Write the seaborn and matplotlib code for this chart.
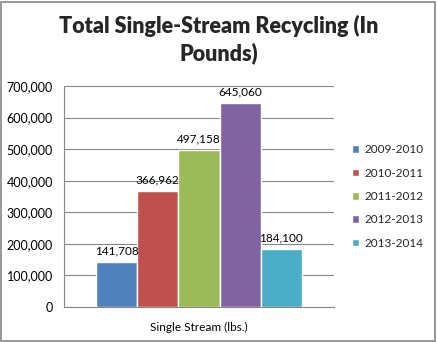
import matplotlib
matplotlib.use("Agg")
import matplotlib.pyplot as plt
import seaborn as sns
import pandas as pd
from matplotlib.patches import Rectangle

categories = ["Single Stream (lbs.)"]
years = ["2009-2010", "2010-2011", "2011-2012", "2012-2013", "2013-2014"]
values = [141708, 366962, 497158, 645060, 184100]
colors = ["#4F81BD", "#C0504D", "#9BBB59", "#8064A2", "#4BACC6"]
yticks = [0, 100000, 200000, 300000, 400000, 500000, 600000, 700000]

df = pd.DataFrame({"cat": categories * len(years), "year": years, "value": values})

sns.set_theme(style="white")
plt.rcParams["font.family"] = ["Lato", "DejaVu Sans"]

fig = plt.figure(figsize=(4.37, 3.42), dpi=100)
ax = fig.add_axes([64 / 437, 1 - 307 / 342, 270 / 437, 221 / 342])

sns.barplot(data=df, x="cat", y="value", hue="year", palette=colors,
            width=0.763, gap=0, ax=ax, legend=True, saturation=1)

ax.set_xlim(-0.5, 0.5)
ax.set_ylim(0, 700000)
ax.set_yticks(yticks)
ax.set_yticklabels([f"{v:,}" for v in yticks], fontsize=9, color="black")
ax.tick_params(axis="both", length=0, pad=8)
ax.tick_params(axis="x", labelsize=8.5, labelcolor="black", pad=11)
ax.set_xlabel("")
ax.set_ylabel("")
ax.yaxis.grid(True, color="#868686", linewidth=0.8)
ax.set_axisbelow(True)
for s in ["top", "right"]:
    ax.spines[s].set_visible(False)
for s in ["left", "bottom"]:
    ax.spines[s].set_color("#868686")
    ax.spines[s].set_linewidth(0.8)

for cont in ax.containers:
    ax.bar_label(cont, labels=[f"{v:,.0f}" for v in cont.datavalues],
                 fontsize=8.5, padding=4, color="black")

leg = ax.legend(loc="center left", bbox_to_anchor=(1.05, 0.5), frameon=False,
                fontsize=8.5, handlelength=0.6, handleheight=0.6,
                handletextpad=0.4, labelspacing=1.05, borderaxespad=0)

fig.text(0.5, 0.925, "Total Single-Stream Recycling (In", ha="center", va="center",
         fontsize=15.5, fontweight="heavy")
fig.text(0.5, 0.845, "Pounds)", ha="center", va="center",
         fontsize=15.5, fontweight="heavy")

fig.patches.append(Rectangle((0.003, 0.003), 0.992, 0.992, transform=fig.transFigure,
                             fill=False, edgecolor="#868686", linewidth=1.2))

fig.savefig("out.png", dpi=100)
